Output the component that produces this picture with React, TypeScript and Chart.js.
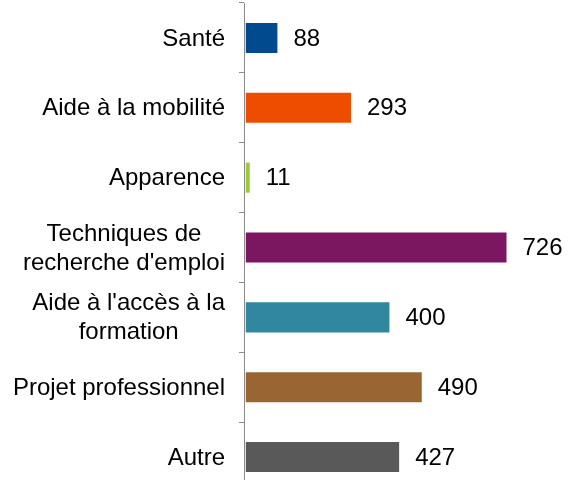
import React, { useEffect, useRef } from "react";
import { Chart, registerables } from "chart.js";

Chart.register(...registerables);

const categories: (string | string[])[] = [
  "Santé",
  "Aide à la mobilité",
  "Apparence",
  ["Techniques de", "recherche d'emploi"],
  ["Aide à l'accès à la", "formation"],
  "Projet professionnel",
  "Autre",
];
const values = [88, 293, 11, 726, 400, 490, 427];
const colors = ["#004A8D", "#EE4D00", "#9ACA3C", "#7B1660", "#31879F", "#996633", "#595959"];

const FONT = "Liberation Sans, Arial, sans-serif";
const FONT_SIZE = 24;

const labelPlugin = {
  id: "customLabels",
  afterDraw(chart: any) {
    const ctx = chart.ctx;
    const yScale = chart.scales.y;
    const meta = chart.getDatasetMeta(0);
    ctx.save();
    ctx.font = `${FONT_SIZE}px ${FONT}`;
    ctx.fillStyle = "#000000";
    ctx.textBaseline = "middle";
    const lineH = 29;
    const rightEdge = yScale.right - 19;
    categories.forEach((cat, i) => {
      const lines = Array.isArray(cat) ? cat : [cat];
      const cy = yScale.getPixelForValue(i) + 1;
      const widest = Math.max(...lines.map((l) => ctx.measureText(l).width));
      const cx = rightEdge - widest / 2;
      ctx.textAlign = "center";
      lines.forEach((l, j) => {
        const y = cy + (j - (lines.length - 1) / 2) * lineH;
        ctx.fillText(l, cx, y);
      });
    });
    ctx.textAlign = "left";
    meta.data.forEach((bar: any, i: number) => {
      ctx.fillText(String(values[i]), bar.x + 16, bar.y + 1);
    });
    ctx.restore();
  },
};

export default function App() {
  const ref = useRef<HTMLCanvasElement>(null);
  useEffect(() => {
    if (!ref.current) return;
    const chart = new Chart(ref.current, {
      type: "bar",
      data: {
        labels: categories.map((c) => (Array.isArray(c) ? c.join(" ") : c)),
        datasets: [
          {
            data: values,
            backgroundColor: colors,
            borderWidth: 0,
            categoryPercentage: 1,
            barPercentage: 0.43,
          },
        ],
      },
      options: {
        indexAxis: "y",
        responsive: false,
        animation: false,
        layout: { padding: { top: 3, bottom: 8, left: 0, right: 1 } },
        plugins: { legend: { display: false }, tooltip: { enabled: false } },
        scales: {
          x: {
            display: false,
            min: -5,
            max: 900,
          },
          y: {
            ticks: { display: false },
            grid: {
              drawOnChartArea: false,
              drawTicks: true,
              tickLength: 5,
              color: "#8C8C8C",
              offset: true,
            },
            border: { display: true, color: "#8C8C8C", width: 1 },
            afterFit: (scale: any) => {
              scale.width = 244;
            },
          },
        },
      },
      plugins: [labelPlugin],
    });
    return () => chart.destroy();
  }, []);
  return (
    <div style={{ position: "absolute", left: 0, top: 0, width: 570, height: 480, overflow: "hidden", background: "#fff" }}>
      <canvas ref={ref} width={570} height={500} style={{ width: 570, height: 500, display: "block" }} />
    </div>
  );
}
